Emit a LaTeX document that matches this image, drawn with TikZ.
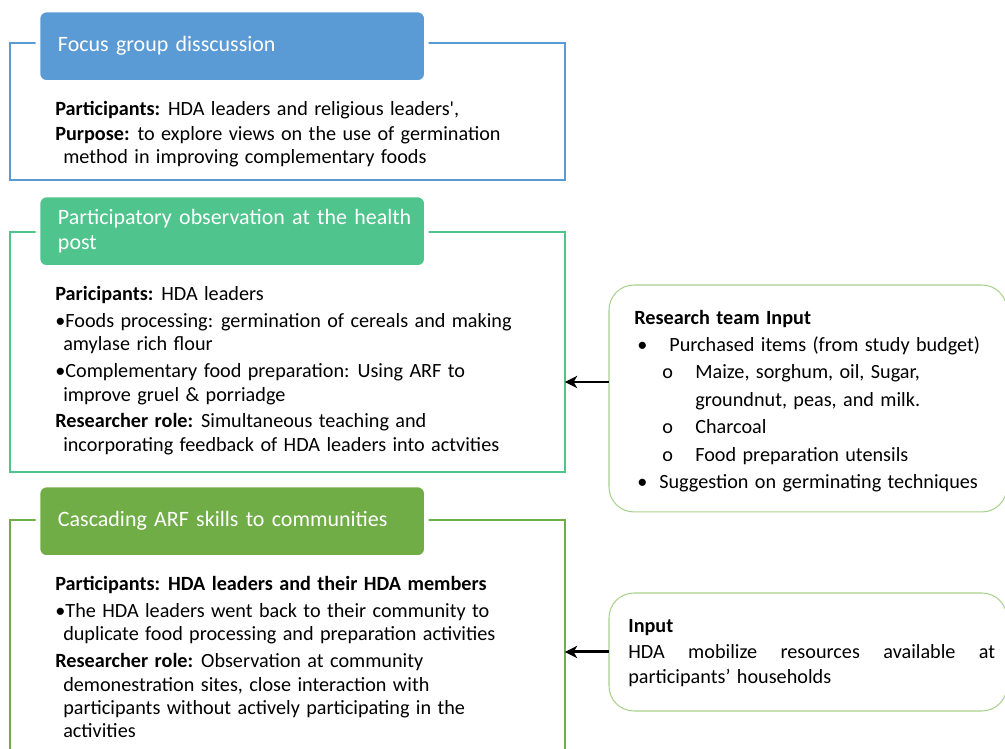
\documentclass[tikz,border=0pt]{standalone}
\usepackage{fontspec}
\setmainfont{Carlito}[WordSpace=1.4]
\newfontfamily\headfont{Carlito}
\usepackage{tikz}
\usetikzlibrary{arrows.meta, positioning}
\definecolor{fgdblue}{HTML}{5B9BD5}
\definecolor{obsgreen}{HTML}{4FC48C}
\definecolor{cascgreen}{HTML}{70AD47}
\definecolor{inputgreen}{HTML}{A9D18E}
\tikzset{stagebox/.style = {draw, line width=1.1pt, anchor=north west, minimum width=11.1cm, inner sep=0pt, outer sep=0pt}}
\tikzset{stagehead/.style = {draw=white, line width=2.6pt, rounded corners=0.17cm, anchor=north west, outer sep=0pt, minimum width=7.77cm, minimum height=1.45cm, text width=6.97cm, inner xsep=0.4cm, align=left, text=white, font={\headfont\fontsize{12.5pt}{14.5pt}\selectfont}}}
\tikzset{bodytext/.style = {anchor=north west, inner sep=0pt, align=left, font={\fontsize{11.5pt}{13.3pt}\selectfont}}}
\tikzset{inputbox/.style = {draw=inputgreen, line width=0.6pt, rounded corners=0.5cm, anchor=north west, outer sep=0pt, minimum width=7.96cm, inner sep=0pt}}
\tikzset{inarrow/.style = {-{Stealth[length=7pt, width=7pt, inset=2pt]}, line width=1.7pt}}
\newcommand{\lstitem}[3]{\hspace*{#1}\makebox[\dimexpr#2-#1\relax][l]{#3}}

\begin{document}
\begin{tikzpicture}[x=0.02cm, y=-0.02cm]
    \useasboundingbox (0,0) rectangle (1005,749);
    \clip (0,0) rectangle (1005,749);

    \node[stagebox, draw=fgdblue, minimum height=2.74cm] (fgdbox) at (10,43) {};
    \node[stagebox, draw=obsgreen, minimum height=4.8cm] (obsbox) at (10,232) {};
    \node[stagebox, draw=cascgreen, minimum height=5.4cm] (cascbox) at (10,520) {};

    \node[stagehead, fill=fgdblue] (fgdhead) at (38,10) {Focus group disscussion};
    \node[stagehead, fill=obsgreen] (obshead) at (38,195) {\mbox{Participatory observation at the health}\\post};
    \node[stagehead, fill=cascgreen] (caschead) at (38,485) {Cascading ARF skills to communities};

    \node[bodytext] (fgdtext) at (55,100.5) {\textbf{Participants:} HDA leaders and religious leaders\textquotesingle,\\[1.2pt]
        \textbf{Purpose:} to explore views on the use of germination\\
        \hspace*{4.5pt}method in improving complementary foods};

    \node[bodytext] (obstext) at (55,286) {\textbf{Paricipants:} HDA leaders\\[2pt]
        \textbullet Foods processing: germination of cereals and making\\
        \hspace*{4.5pt}amylase rich flour\\[2pt]
        \textbullet Complementary food preparation: Using ARF to\\
        \hspace*{4.5pt}improve gruel \& porriadge\\[2pt]
        \textbf{Researcher role:} Simultaneous teaching and\\
        \hspace*{4.5pt}incorporating feedback of HDA leaders into actvities};

    \node[bodytext] (casctext) at (55,576) {\textbf{Participants: HDA leaders and their HDA members}\\[2pt]
        \textbullet The HDA leaders went back to their community to\\
        \hspace*{4.5pt}duplicate food processing and preparation activities\\[2pt]
        \textbf{Researcher role:} Observation at community\\
        \hspace*{4.5pt}demonestration sites, close interaction with\\
        \hspace*{4.5pt}participants without actively participating in the\\
        \hspace*{4.5pt}activities};

    \node[inputbox, minimum height=4.54cm] (teambox) at (609,285) {};
    \node[inputbox, minimum height=2.36cm] (resourcebox) at (609,593) {};

    \node[bodytext, font={\fontsize{11.5pt}{15.6pt}\selectfont}] (teamtext) at (634,309.5) {\textbf{Research team Input}\\
        \lstitem{0.06cm}{0.7cm}{\textbullet}Purchased items (from study budget)\\
        \lstitem{0.56cm}{1.22cm}{o}Maize, sorghum, oil, Sugar,\\
        \hspace*{1.22cm}groundnut, peas, and milk.\\
        \lstitem{0.56cm}{1.22cm}{o}Charcoal\\
        \lstitem{0.56cm}{1.22cm}{o}Food preparation utensils\\
        \lstitem{0.06cm}{0.5cm}{\textbullet}Suggestion on germinating techniques};

    \node[bodytext, font={\fontsize{11.5pt}{14.5pt}\selectfont}] (resourcetext) at (628,619.5) {\textbf{Input}\\
        \makebox[7.34cm][s]{HDA mobilize resources available at}\\
        participants’ households};

    \coordinate (teamarr) at (0,382);
    \draw[inarrow] (teambox.west |- teamarr) -- (obsbox.east |- teamarr);
    \draw[inarrow] (resourcebox.west) -- (cascbox.east |- resourcebox.west);
\end{tikzpicture}
\end{document}
